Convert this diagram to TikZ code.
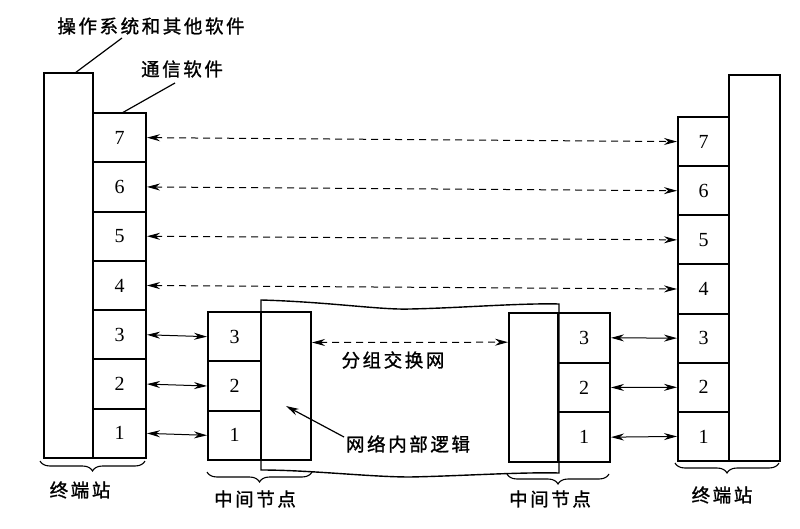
\documentclass[tikz,border=0pt]{standalone}
\usepackage{fontspec}
\setmainfont{Liberation Serif}
\newfontfamily\cjk[LetterSpace=14,FakeBold=1.2]{Noto Sans CJK SC}
\usetikzlibrary{arrows.meta,decorations.pathreplacing,calc}
\begin{document}
\begin{tikzpicture}[x=1pt,y=-1pt,
  box/.style={draw, line width=2pt, inner sep=0pt},
  num/.style={font=\fontsize{20}{20}\selectfont},
  lbl/.style={font=\cjk\fontsize{18.5}{18.5}\selectfont, inner sep=0pt},
  tipA/.tip={Stealth[length=13pt,width=7pt]},
  arr/.style={line width=1pt, tipA-tipA},
  darr/.style={arr, dash pattern=on 7pt off 5pt},
  lead/.style={line width=1.2pt},
  br/.style={decorate, decoration={brace,mirror,amplitude=10pt}, line width=1.1pt}
]
\useasboundingbox (0,0) rectangle (800,529);

% packet-switching network cloud
\draw[line width=1.4pt] (261,300) .. controls (330,302) and (380,310) .. (410,309)
  .. controls (460,308) and (520,303) .. (559,304) -- (559,473)
  .. controls (520,472) and (460,476) .. (410,477)
  .. controls (370,477) and (310,470) .. (261,470) -- cycle;

% left end station
\node[box, minimum width=49pt, minimum height=385pt] (Los) at (68.5,265.5) {};
\foreach \k in {1,...,7}
  \node[box, num, minimum width=53pt, minimum height=49.29pt] (L\k) at (119.5,{458-(\k-0.5)*49.286}) {\k};

% right end station
\node[box, minimum width=51pt, minimum height=386pt] (Ros) at (754.5,268) {};
\foreach \k in {1,...,7}
  \node[box, num, minimum width=51pt, minimum height=49.14pt] (R\k) at (703.5,{461-(\k-0.5)*49.14}) {\k};

% left intermediate node
\node[box, minimum width=50pt, minimum height=148pt] (Abox) at (286,386) {};
\foreach \k in {1,2,3}
  \node[box, num, minimum width=53pt, minimum height=49.33pt] (A\k) at (234.5,{460-(\k-0.5)*49.33}) {\k};

% right intermediate node
\node[box, minimum width=49pt, minimum height=149pt] (Bbox) at (533.5,387.5) {};
\foreach \k in {1,2,3}
  \node[box, num, minimum width=52pt, minimum height=49.67pt] (B\k) at (584,{462-(\k-0.5)*49.67}) {\k};

% peer arrows
\foreach \k in {4,...,7}
  \draw[darr] (L\k.east) -- (R\k.west);
\foreach \k in {1,2,3}{
  \draw[arr] (L\k.east) -- (A\k.west);
  \draw[arr] (B\k.east) -- (R\k.west);
}
\draw[darr] ($(Abox.north east)!0.21!(Abox.south east)$) -- ($(Bbox.north west)!0.2!(Bbox.south west)$);

% labels
\node[lbl] (os) at (151,26) {操作系统和其他软件};
\node[lbl] (comm) at (182,69) {通信软件};
\node[lbl] (psn) at (393,360) {分组交换网};
\node[lbl] (nil) at (408,444) {网络内部逻辑};
\node[lbl] (t1) at (80,490) {终端站};
\node[lbl] (t2) at (722,495) {终端站};
\node[lbl] (m1) at (255,499) {中间节点};
\node[lbl] (m2) at (550,499) {中间节点};

% leader lines
\coordinate (osA) at (75,73);
\coordinate (osB) at (122,38);
\coordinate (cmA) at (122,113);
\coordinate (cmB) at (175,83);
\coordinate (nilA) at (344,437);
\coordinate (nilB) at (286,406);
\draw[lead] (osA) -- (osB);
\draw[lead] (cmA) -- (cmB);
\draw[lead, -tipA] (nilA) -- (nilB);

% braces
\draw[br] (40,461) -- (145,461);
\draw[br] (207,472) -- (312,472);
\draw[br] (507,474) -- (609,474);
\draw[br] (675,463) -- (779,463);
\end{tikzpicture}
\end{document}
